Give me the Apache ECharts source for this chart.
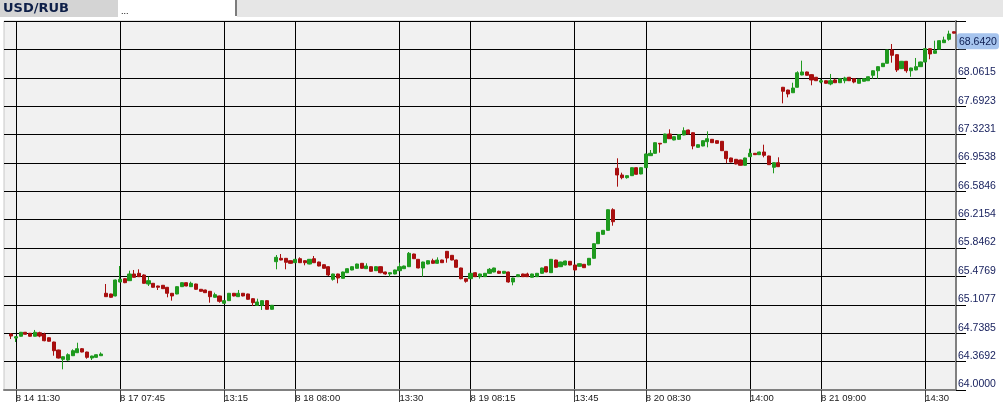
<!DOCTYPE html>
<html><head><meta charset="utf-8">
<script src="https://cdn.jsdelivr.net/npm/echarts@6/dist/echarts.min.js"></script>
<style>html,body{margin:0;padding:0;background:#fff;}#c{width:1003px;height:414px;}</style>
</head><body><div id="c"></div>
<script>
// ---- data: each candle is [open, close, low, high] ----
const dayLabels = ['8 14', '8 17', '8 18', '8 19', '8 20', '8 21'];
const sessionStart = ['11:15', '07:00', '07:00', '07:00', '07:00', '07:00'];

const aug14 = [
[64.728,64.702,64.663,64.741],[64.676,64.693,64.624,64.702],[64.699,64.751,64.695,64.755],[64.751,64.725,64.722,64.755],
[64.738,64.699,64.695,64.742],[64.699,64.751,64.695,64.781],[64.745,64.702,64.686,64.758],[64.728,64.641,64.634,64.745],
[64.680,64.634,64.630,64.684],[64.624,64.511,64.446,64.628],[64.520,64.416,64.410,64.524],[64.399,64.433,64.269,64.437],
[64.390,64.459,64.381,64.477],[64.446,64.511,64.442,64.529],[64.485,64.537,64.481,64.615],[64.537,64.494,64.490,64.546],
[64.494,64.425,64.407,64.498],[64.416,64.442,64.390,64.446],[64.425,64.459,64.420,64.463],[64.446,64.468,64.442,64.490]
];
const aug17 = [
[65.258,65.214,65.210,65.379],[65.249,65.206,65.200,65.253],[65.223,65.431,65.218,65.436],[65.405,65.440,65.400,65.613],
[65.448,65.396,65.390,65.453],[65.422,65.509,65.418,65.552],[65.509,65.466,65.462,65.561],[65.518,65.474,65.470,65.570],
[65.496,65.388,65.384,65.505],[65.379,65.422,65.353,65.474],[65.388,65.336,65.332,65.392],[65.353,65.336,65.301,65.357],
[65.362,65.318,65.314,65.366],[65.336,65.258,65.206,65.340],[65.258,65.223,65.162,65.262],[65.249,65.344,65.245,65.349],
[65.344,65.396,65.340,65.400],[65.396,65.353,65.349,65.400],[65.344,65.388,65.340,65.409],[65.379,65.310,65.305,65.383],
[65.310,65.284,65.280,65.314],[65.301,65.266,65.262,65.305],[65.284,65.214,65.136,65.288],[65.206,65.240,65.202,65.266],
[65.223,65.154,65.136,65.227],[65.128,65.162,65.124,65.166],[65.162,65.258,65.158,65.262],[65.258,65.223,65.218,65.262],
[65.214,65.258,65.210,65.301],[65.258,65.223,65.218,65.262],[65.249,65.180,65.176,65.253],[65.188,65.136,65.093,65.193],
[65.102,65.145,65.097,65.188],[65.102,65.162,65.041,65.166],[65.162,65.050,65.045,65.167],[65.050,65.102,65.045,65.106]
];
const aug18 = [
[65.669,65.726,65.570,65.756],[65.713,65.691,65.687,65.769],[65.713,65.661,65.570,65.717],[65.682,65.648,65.644,65.686],
[65.656,65.700,65.652,65.704],[65.708,65.656,65.652,65.726],[65.682,65.656,65.622,65.686],[65.639,65.700,65.635,65.704],
[65.708,65.656,65.652,65.743],[65.665,65.613,65.609,65.669],[65.630,65.583,65.579,65.634],[65.604,65.496,65.483,65.608],
[65.440,65.509,65.422,65.513],[65.509,65.457,65.388,65.513],[65.453,65.535,65.449,65.539],[65.526,65.578,65.522,65.582],
[65.561,65.604,65.557,65.608],[65.583,65.639,65.579,65.643],[65.648,65.583,65.579,65.652],[65.578,65.613,65.574,65.648],
[65.604,65.544,65.540,65.608],[65.552,65.604,65.548,65.608],[65.604,65.526,65.518,65.608],[65.535,65.509,65.500,65.539],
[65.509,65.526,65.474,65.530],[65.509,65.561,65.505,65.565],[65.552,65.604,65.548,65.656],[65.578,65.613,65.574,65.617],
[65.604,65.778,65.600,65.795],[65.769,65.708,65.704,65.773],[65.700,65.587,65.583,65.704],[65.587,65.665,65.474,65.669],
[65.639,65.682,65.635,65.686],[65.682,65.648,65.644,65.708],[65.648,65.691,65.644,65.726],[65.691,65.656,65.652,65.695]
];
const aug19 = [
[65.804,65.717,65.656,65.808],[65.752,65.691,65.687,65.756],[65.691,65.596,65.591,65.695],[65.587,65.448,65.440,65.591],
[65.448,65.414,65.396,65.452],[65.448,65.518,65.444,65.522],[65.526,65.474,65.470,65.530],[65.474,65.509,65.448,65.513],
[65.474,65.518,65.470,65.522],[65.518,65.570,65.514,65.587],[65.535,65.587,65.531,65.591],[65.544,65.518,65.514,65.552],
[65.518,65.544,65.509,65.548],[65.535,65.405,65.396,65.539],[65.405,65.457,65.362,65.461],[65.474,65.500,65.470,65.505],
[65.509,65.474,65.470,65.513],[65.509,65.474,65.470,65.526],[65.466,65.509,65.462,65.513],[65.474,65.518,65.470,65.522],
[65.518,65.587,65.514,65.591],[65.604,65.535,65.531,65.608],[65.526,65.700,65.522,65.704],[65.691,65.596,65.591,65.695],
[65.604,65.665,65.600,65.669],[65.626,65.678,65.622,65.682],[65.674,65.626,65.622,65.678],[65.626,65.561,65.557,65.630],
[65.609,65.643,65.604,65.648],[65.635,65.591,65.587,65.639],[65.626,65.713,65.622,65.717],[65.713,65.903,65.709,65.907],
[65.903,66.051,65.899,66.055],[66.025,66.077,66.021,66.081],[66.077,66.345,66.073,66.349],[66.345,66.189,66.137,66.364]
];
const aug20 = [
[66.884,66.797,66.645,67.014],[66.797,66.762,66.741,66.827],[66.762,66.788,66.749,66.792],[66.788,66.892,66.784,66.896],
[66.892,66.806,66.801,66.896],[66.810,66.892,66.806,66.896],[66.892,67.070,66.888,67.074],[67.048,67.079,67.044,67.122],
[67.079,67.217,67.074,67.221],[67.209,67.200,67.087,67.213],[67.217,67.330,67.213,67.334],[67.330,67.269,67.265,67.391],
[67.252,67.295,67.248,67.299],[67.261,67.321,67.256,67.325],[67.317,67.373,67.313,67.417],[67.382,67.330,67.326,67.386],
[67.347,67.174,67.131,67.352],[67.157,67.191,67.153,67.196],[67.174,67.243,67.170,67.248],[67.230,67.269,67.157,67.365],
[67.261,67.217,67.213,67.265],[67.243,67.209,67.204,67.248],[67.235,67.113,67.109,67.239],[67.105,67.009,66.949,67.109],
[67.018,66.966,66.962,67.022],[67.001,66.940,66.936,67.005],[66.992,66.923,66.919,66.996],[66.923,67.018,66.919,67.022],
[67.035,67.079,67.031,67.139],[67.079,67.061,67.057,67.083],[67.061,67.096,67.057,67.100],[67.096,67.053,67.027,67.191],
[67.044,66.931,66.927,67.048],[66.897,66.957,66.819,66.962],[66.957,66.905,66.901,67.027]
];
const aug21 = [
[67.938,67.886,67.729,67.942],[67.902,67.851,67.807,67.906],[67.867,67.928,67.863,67.997],[67.938,68.127,67.934,68.146],
[68.098,68.137,68.094,68.284],[68.137,68.094,68.090,68.142],[68.102,68.033,67.964,68.107],[68.068,68.023,68.020,68.072],
[68.006,68.023,67.990,68.042],[68.023,67.990,67.986,68.027],[67.981,68.023,67.964,68.111],[68.033,67.997,67.993,68.049],
[67.997,68.049,67.993,68.053],[68.023,68.059,67.990,68.075],[68.068,68.023,68.020,68.072],[68.049,68.006,67.990,68.053],
[67.990,68.042,67.986,68.046],[68.016,68.049,68.012,68.053],[68.023,68.075,68.020,68.079],[68.094,68.153,68.049,68.157],
[68.153,68.206,68.049,68.210],[68.206,68.250,68.202,68.254],[68.250,68.423,68.246,68.427],[68.423,68.354,68.258,68.501],
[68.362,68.163,68.137,68.367],[68.180,68.276,68.176,68.280],[68.276,68.153,68.127,68.280],[68.153,68.189,68.075,68.193],
[68.163,68.206,68.159,68.319],[68.206,68.267,68.202,68.271],[68.267,68.440,68.263,68.444],[68.440,68.371,68.302,68.444],
[68.380,68.414,68.375,68.544],[68.432,68.544,68.427,68.548],[68.518,68.553,68.514,68.596],[68.562,68.631,68.544,68.674],
[68.660,68.642,68.638,68.664]
];

const tickCategories = ['8 14 11:30','8 17 07:45','8 17 13:15','8 18 08:00','8 18 13:30','8 19 08:15','8 19 13:45','8 20 08:30','8 20 14:00','8 21 09:00','8 21 14:30'];
const tickLabels = ['8 14 11:30','8 17 07:45','13:15','8 18 08:00','13:30','8 19 08:15','13:45','8 20 08:30','14:00','8 21 09:00','14:30'];
const yMin = 64.0, yMax = 68.8, ySteps = 13;
const lastPrice = 68.642;
const lastPriceText = '68.6420';
const title = 'USD/RUB';

// ---- build category table ----
const days = [aug14, aug17, aug18, aug19, aug20, aug21];
const categories = [' '];
const ohlc = [['-','-','-','-']];
days.forEach((d, k) => {
  const p = sessionStart[k].split(':').map(Number);
  let t = p[0] * 60 + p[1];
  d.forEach(c => {
    const hh = String(Math.floor(t / 60)).padStart(2, '0');
    const mm = String(t % 60).padStart(2, '0');
    categories.push(dayLabels[k] + ' ' + hh + ':' + mm);
    ohlc.push(c);
    t += 15;
  });
});
const labelMap = {};
tickCategories.forEach((c, i) => { labelMap[c] = tickLabels[i]; });
const showTick = (idx, val) => labelMap[val] !== undefined;

const splitColors = [];
for (let i = 0; i < ySteps; i++) splitColors.push('#000000');
splitColors.push('#c8c8c8');

const UP = '#1f9a1f', DOWN = '#a80f0f';
const chart = echarts.init(document.getElementById('c'));
chart.setOption({
  animation: false,
  backgroundColor: '#ffffff',
  grid: { left: 4, right: 47, top: 21, bottom: 24, show: true, backgroundColor: '#f1f1f1', borderColor: '#c8c8c8', borderWidth: 1 },
  xAxis: {
    type: 'category', data: categories, boundaryGap: true,
    axisLine: { lineStyle: { color: '#808080', width: 2 } },
    axisTick: { show: true, alignWithLabel: true, interval: showTick, length: 12, lineStyle: { color: '#404040', width: 1 } },
    axisLabel: { interval: showTick, formatter: v => labelMap[v] || '', align: 'left', verticalAlign: 'top', margin: 3,
      fontFamily: 'Liberation Sans', fontSize: 9.5, color: '#202020' },
    splitLine: { show: true, alignWithLabel: true, interval: showTick, lineStyle: { color: '#000000', width: 1 } }
  },
  yAxis: {
    type: 'value', position: 'right', min: yMin, max: yMax, interval: (yMax - yMin) / ySteps,
    axisLine: { show: true, lineStyle: { color: '#808080', width: 2 } },
    axisTick: { show: true, length: 10, lineStyle: { color: '#000000', width: 1 } },
    axisLabel: { margin: 2, verticalAlign: 'bottom', align: 'left', fontFamily: 'Liberation Sans', fontSize: 10.5, color: '#1b2460',
      formatter: v => (v > 68.3 ? '' : v.toFixed(4)) },
    splitLine: { show: true, lineStyle: { color: splitColors, width: 1 } }
  },
  graphic: [
    { type: 'rect', shape: { x: 0, y: 0, width: 118, height: 17 }, style: { fill: '#d4d4d4' } },
    { type: 'rect', shape: { x: 118, y: 0, width: 118, height: 17 }, style: { fill: '#ffffff' } },
    { type: 'rect', shape: { x: 235, y: 0, width: 2, height: 16 }, style: { fill: '#7c7c7c' } },
    { type: 'rect', shape: { x: 237, y: 0, width: 766, height: 17 }, style: { fill: '#e6e6e6' } },
    { type: 'text', x: 3, y: 9, style: { text: title, font: 'bold 13px "DejaVu Sans"', fill: '#0e1f48', verticalAlign: 'middle' } },
    { type: 'text', x: 121, y: 12, style: { text: '...', font: '9px "Liberation Sans"', fill: '#000000', verticalAlign: 'middle' } }
  ],
  series: [{
    type: 'candlestick', data: ohlc, barWidth: 3.6,
    itemStyle: { color: UP, color0: DOWN, borderColor: UP, borderColor0: DOWN, borderWidth: 1 },
    markLine: {
      silent: true, symbol: ['none', 'none'], animation: false, precision: 4,
      lineStyle: { color: 'transparent', width: 0 },
      label: { show: true, position: 'end', formatter: () => lastPriceText, backgroundColor: '#a6c4ee', borderRadius: 3,
        padding: [3, 2, 2, 2], color: '#0c1c50', fontSize: 10.5, fontFamily: 'Liberation Sans', distance: 1, verticalAlign: 'top', align: 'left' },
      data: [{ yAxis: lastPrice }]
    }
  }]
});
</script></body></html>
